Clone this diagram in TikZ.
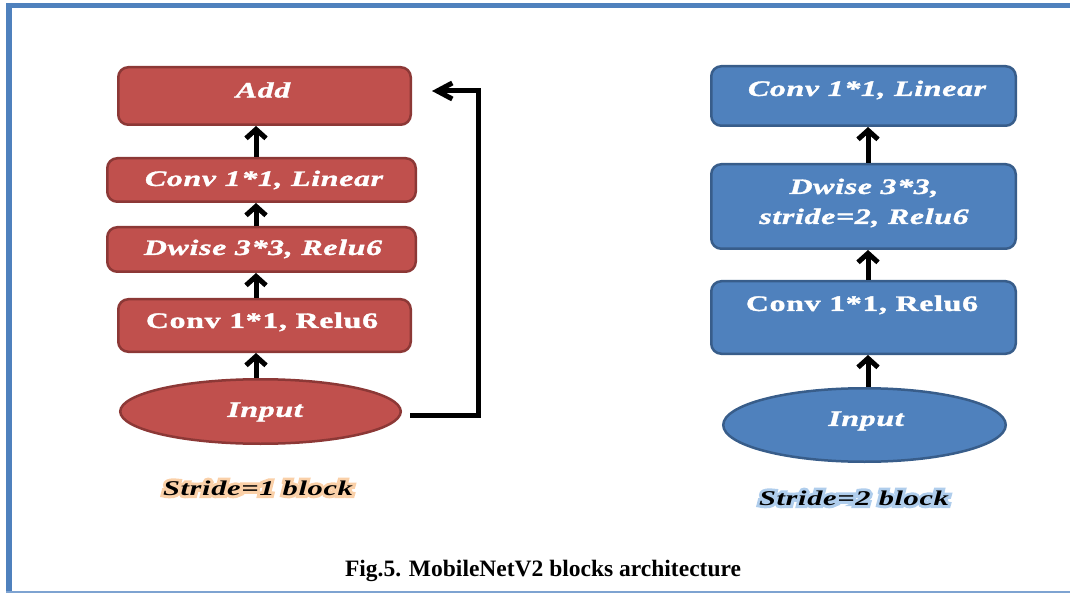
\documentclass[tikz,border=0pt]{standalone}
\usepackage{fontspec}
\setmainfont{Liberation Serif}
\newfontfamily\boxfont[FakeStretch=1.45,LetterSpace=3,FakeBold=1.5]{Liberation Serif}
\newfontfamily\lblfont[FakeStretch=1.45,LetterSpace=3]{Liberation Serif}
\newfontfamily\glowfont[FakeStretch=1.45,LetterSpace=3,FakeBold=28]{Liberation Serif}
\usetikzlibrary{arrows.meta,shapes.geometric}
\definecolor{redfill}{HTML}{C0504D}
\definecolor{redline}{HTML}{8C3836}
\definecolor{bluefill}{HTML}{4F81BD}
\definecolor{blueline}{HTML}{385D8A}
\definecolor{framecol}{HTML}{4F81BD}
\definecolor{framelight}{HTML}{7EA3D1}
\definecolor{glowor}{HTML}{FAD0A8}
\definecolor{glowbl}{HTML}{AFCDEC}
\tikzset{
  redbox/.style={draw=redline, fill=redfill, line width=2.5pt, rounded corners=10pt, inner sep=0pt},
  bluebox/.style={draw=blueline, fill=bluefill, line width=2.5pt, rounded corners=10pt, inner sep=0pt},
  redell/.style={ellipse, draw=redline, fill=redfill, line width=2.5pt, inner sep=0pt},
  blueell/.style={ellipse, draw=blueline, fill=bluefill, line width=2.5pt, inner sep=0pt},
  boxtxt/.style={text=white, inner sep=0pt, align=center, font=\boxfont\fontsize{22}{30}\selectfont\bfseries\itshape},
  boxtxtup/.style={text=white, inner sep=0pt, align=center, font=\boxfont\fontsize{22}{30}\selectfont\bfseries},
  lbl/.style={inner sep=0pt, font=\lblfont\fontsize{21}{24}\selectfont\bfseries\itshape},
  glowlbl/.style={inner sep=0pt, font=\glowfont\fontsize{21}{24}\selectfont\bfseries\itshape},
  arr/.style={-{Straight Barb[length=9pt,width=20pt]}, line width=5pt, black},
  skiparr/.style={-{Straight Barb[length=15pt,width=16pt]}, line width=5pt, black},
  frameline/.style={draw=framecol}
}
\begin{document}
\begin{tikzpicture}[x=1pt,y=-1pt]
\useasboundingbox (0,0) rectangle (1070,593);
% frame
\draw[frameline, line width=5pt] (6,5.5) -- (1070,5.5);
\draw[frameline, line width=6pt] (9,3) -- (9,593);
\draw[draw=framelight, line width=1.5pt] (6,592) -- (1070,592);

% ---- stride 1 block (red)
\node[redbox, minimum width=292.5pt, minimum height=57.5pt] (add) at (264.5,96) {};
\node[redbox, minimum width=308.5pt, minimum height=43.5pt] (lin1) at (261.5,180) {};
\node[redbox, minimum width=308.5pt, minimum height=44.5pt] (dw1) at (261.5,249.5) {};
\node[redbox, minimum width=292.5pt, minimum height=52.5pt] (cv1) at (264.5,325.5) {};
\node[redell, minimum width=280.5pt, minimum height=64.5pt] (in1) at (260.5,411.5) {};

\node[boxtxt] (addt) at (263,90) {Add};
\node[boxtxt] (lin1t) at (264,180) {Conv 1*1, Linear};
\node[boxtxt] (dw1t) at (263,249) {Dwise 3*3, Relu6};
\node[boxtxtup] (cv1t) at (262,322) {Conv 1*1, Relu6};
\node[boxtxt] (in1t) at (265,412) {Input};

\coordinate (ax1) at (256,0);
\draw[arr] (in1.north -| ax1) -- (cv1.south -| ax1);
\draw[arr] (cv1.north -| ax1) -- (dw1.south -| ax1);
\draw[arr] (dw1.north -| ax1) -- (lin1.south -| ax1);
\draw[arr] (lin1.north -| ax1) -- (add.south -| ax1);
\draw[skiparr] ([xshift=8pt,yshift=-4pt]in1.east) -- ([xshift=76pt,yshift=-4pt]in1.east) |- ([xshift=20pt,yshift=5pt]add.east);

% label 1 with glow
\node[glowlbl, text=glowor] (g1) at (258,488) {Stride=1 block};
\node[lbl] (lab1) at (g1.center) {Stride=1 block};

% ---- stride 2 block (blue)
\node[bluebox, minimum width=304.5pt, minimum height=59.5pt] (lin2) at (863.5,96) {};
\node[bluebox, minimum width=304.5pt, minimum height=84.5pt] (dw2) at (863.5,206.5) {};
\node[bluebox, minimum width=304.5pt, minimum height=72.5pt] (cv2) at (863.5,317.5) {};
\node[blueell, minimum width=282.5pt, minimum height=73.5pt] (in2) at (864.5,425) {};

\node[boxtxt] (lin2t) at (867,90) {Conv 1*1, Linear};
\node[boxtxt] (dw2t) at (864,203) {Dwise 3*3,\\ stride=2, Relu6};
\node[boxtxtup] (cv2t) at (862,305) {Conv 1*1, Relu6};
\node[boxtxt] (in2t) at (866,421) {Input};

\coordinate (ax2) at (868,0);
\draw[arr] (in2.north -| ax2) -- (cv2.south -| ax2);
\draw[arr] (cv2.north -| ax2) -- (dw2.south -| ax2);
\draw[arr] (dw2.north -| ax2) -- (lin2.south -| ax2);

\node[glowlbl, text=glowbl] (g2) at (854,498) {Stride=2 block};
\node[lbl] (lab2) at (g2.center) {Stride=2 block};

% caption
\node[inner sep=0pt, font=\fontsize{23.5}{26}\selectfont\bfseries] (cap) at (543,571) {Fig.5. MobileNetV2 blocks architecture};
\end{tikzpicture}
\end{document}
